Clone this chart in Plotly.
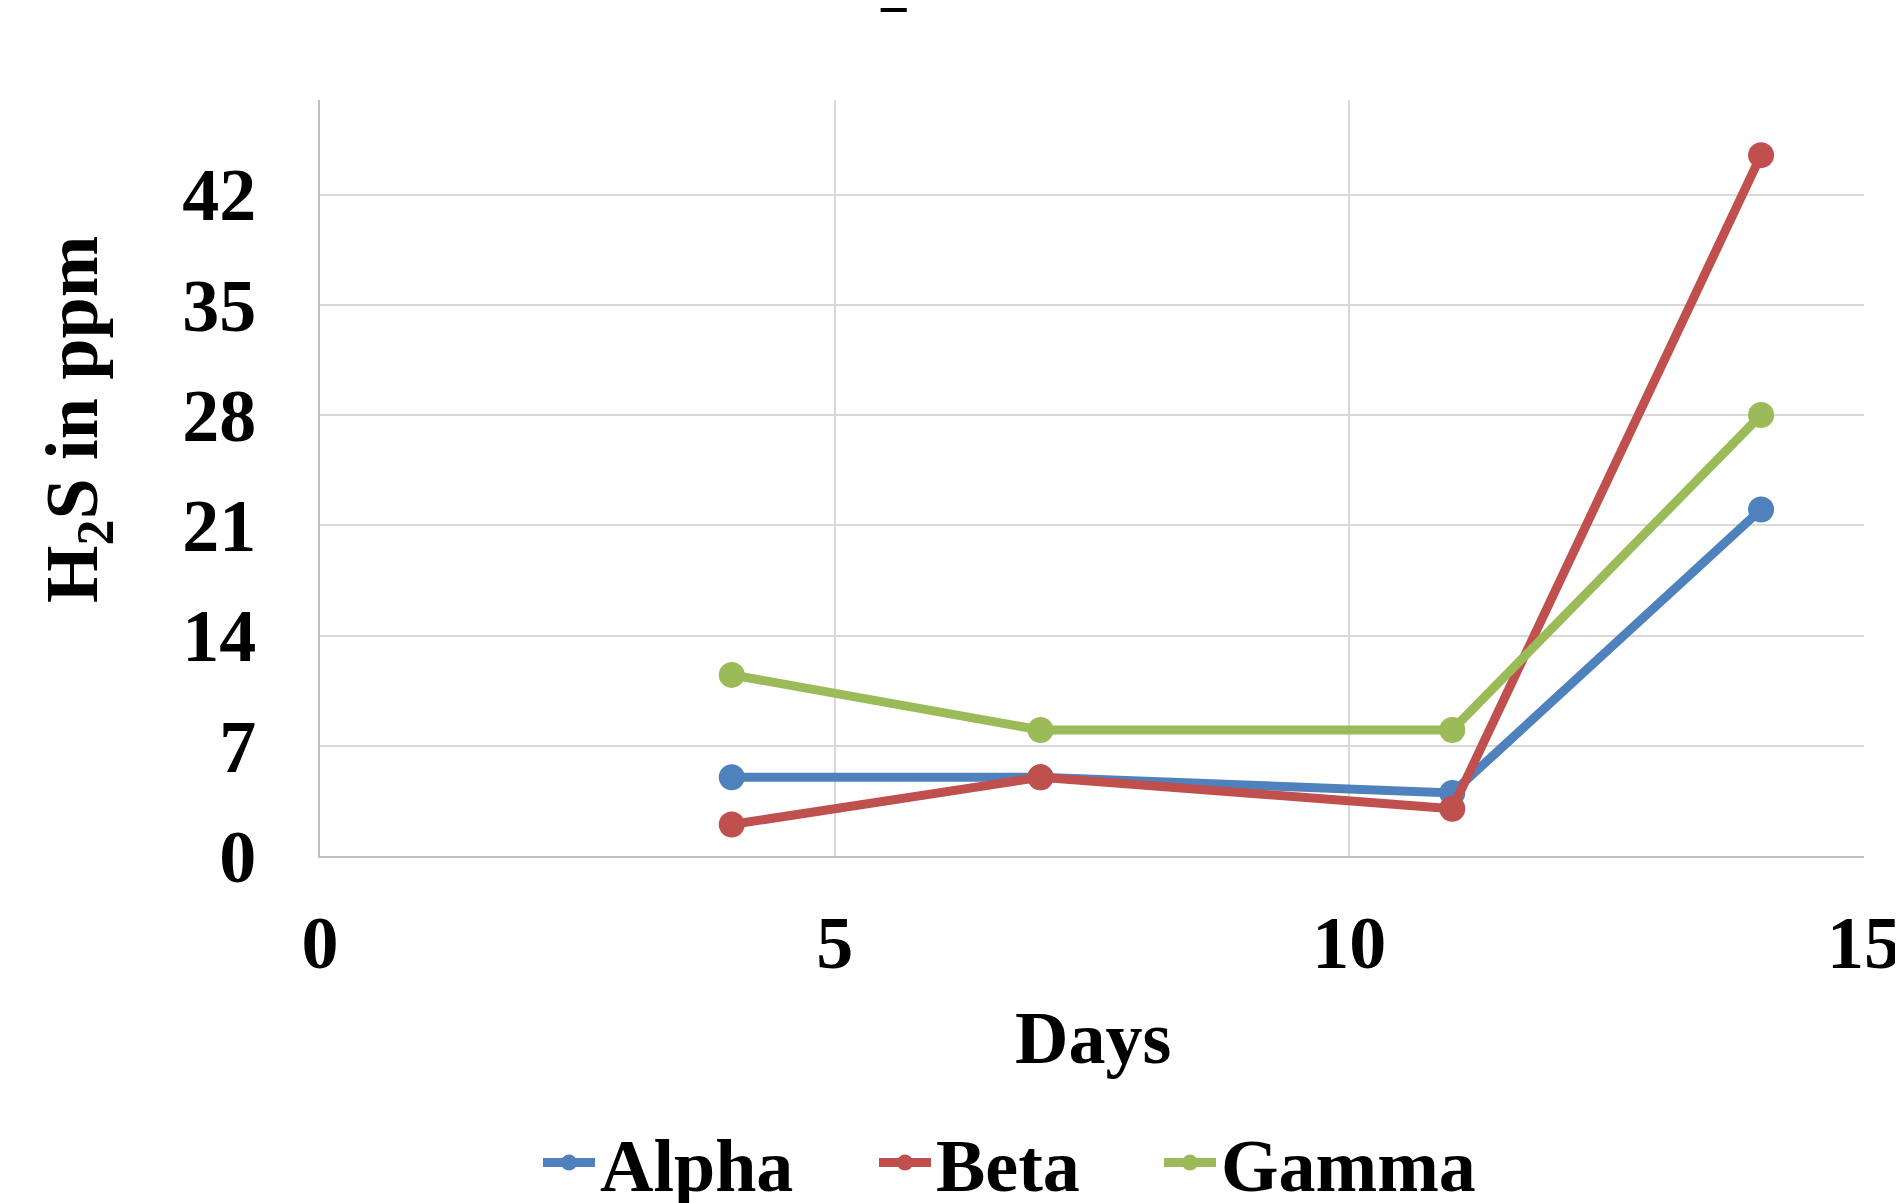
import plotly.graph_objects as go

days = [4, 7, 11, 14]
alpha = [5, 5, 4, 22]
beta = [2, 5, 3, 44.5]
gamma = [11.5, 8, 8, 28]
series_names = ["Alpha", "Beta", "Gamma"]
series_colors = ["#4F81BD", "#C0504D", "#9BBB59"]
x_ticks = [0, 5, 10, 15]
y_ticks = [0, 7, 14, 21, 28, 35, 42]

FONT = "Liberation Serif"
FS = 74

W, H = 1903, 1203
L, R, T, B = 312, 47, 92, 355

def px_x(px):
    return (px - L) / (W - L - R)

def px_y(py):
    return (H - B - py) / (H - B - T)

legend_names = ["legend", "legend2", "legend3"]
legend_x = [530, 866, 1151]

fig = go.Figure()
for name, vals, col, lg in zip(series_names, [alpha, beta, gamma], series_colors, legend_names):
    fig.add_trace(go.Scatter(
        x=days, y=vals, name=name, mode="lines+markers",
        line=dict(color=col, width=9),
        marker=dict(color=col, size=26),
        legend=lg,
    ))

legend_font = dict(family=FONT, size=FS, color="black", weight="bold")
legends = {}
for lg, lx in zip(legend_names, legend_x):
    legends[lg] = dict(orientation="h", x=px_x(lx), xanchor="left",
                       y=px_y(1155), yanchor="middle", font=legend_font,
                       itemwidth=52, bgcolor="rgba(0,0,0,0)")

fig.update_layout(
    width=W, height=H,
    margin=dict(l=L, r=R, t=T, b=B, autoexpand=False),
    paper_bgcolor="white", plot_bgcolor="white",
    font=dict(family=FONT, size=FS, color="black", weight="bold"),
    showlegend=True,
    **legends,
    xaxis=dict(range=[0, 15], tickvals=x_ticks, showgrid=True,
               gridcolor="#d9d9d9", gridwidth=2, showline=True,
               linecolor="#bfbfbf", linewidth=2, zeroline=False,
               ticks="", ticklabelstandoff=21,
               tickfont=dict(family=FONT, size=FS, color="black", weight="bold")),
    yaxis=dict(range=[0, 48], tickvals=y_ticks, showgrid=True,
               gridcolor="#d9d9d9", gridwidth=2, showline=True,
               linecolor="#bfbfbf", linewidth=2, zeroline=False,
               ticks="", ticklabelstandoff=47,
               tickfont=dict(family=FONT, size=FS, color="black", weight="bold")),
    annotations=[
        dict(text="Days", xref="paper", yref="paper", x=px_x(1085), y=px_y(1030),
             xanchor="center", yanchor="middle", showarrow=False,
             font=dict(family=FONT, size=FS, color="black", weight="bold")),
        dict(text="H<sub>2</sub>S in ppm", xref="paper", yref="paper",
             x=px_x(69), y=px_y(412), textangle=-90,
             xanchor="center", yanchor="middle", showarrow=False,
             font=dict(family=FONT, size=FS, color="black", weight="bold")),
        dict(text="H<sub>2</sub>S", xref="paper", yref="paper",
             x=px_x(798), y=px_y(-39), xanchor="left", yanchor="middle",
             showarrow=False,
             font=dict(family=FONT, size=90, color="black", weight="bold")),
    ],
)

fig.write_html("out.html")
